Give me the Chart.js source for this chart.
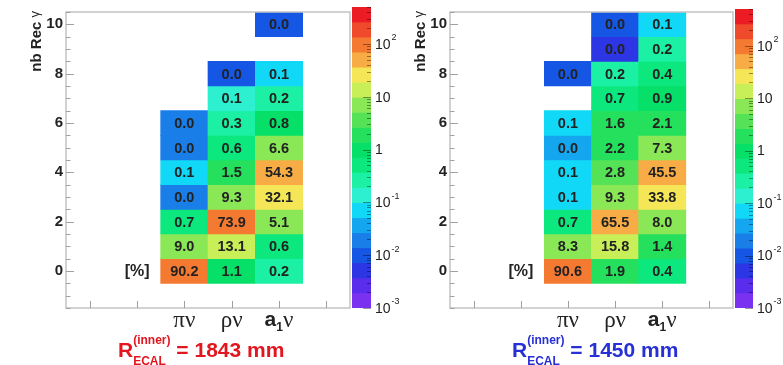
<!DOCTYPE html>
<html>
<head>
<meta charset="utf-8">
<script src="https://cdn.jsdelivr.net/npm/chart.js@4.4.1/dist/chart.umd.min.js"></script>
<style>
  body { margin: 0; background: #fff; width: 783px; height: 365px; overflow: hidden; position: relative; font-family: 'Liberation Sans', Arial, sans-serif; }
  canvas { position: absolute; top: 0; }
  .caption { position: absolute; top: 338px; font-weight: bold; font-size: 21px; line-height: 24px; white-space: nowrap; }
  .st { position: relative; }
  .sp { font-size: 12px; position: relative; top: -13px; }
  .sb { font-size: 12px; line-height: 12px; position: absolute; left: 0; top: 17px; }
</style>
</head>
<body>
<canvas id="barL" width="60" height="340" style="left:352px"></canvas>
<canvas id="mapL" width="351" height="340" style="left:0px"></canvas>
<canvas id="mapR" width="350" height="340" style="left:384px"></canvas>
<canvas id="barR" width="48" height="340" style="left:735px"></canvas>
<div class="caption" style="left:118px;color:#e3161f">R<span class="st"><span class="sp">(inner)</span><span class="sb">ECAL</span></span> = 1843 mm</div>
<div class="caption" style="left:512px;color:#2630d6">R<span class="st"><span class="sp">(inner)</span><span class="sb">ECAL</span></span> = 1450 mm</div>
<script>
// decay channels on x, index of each array = nb Rec gamma (0..10), null = empty bin
const categories = ['πν', 'ρν', 'a1ν'];
const xSlots = ['', ' ', 'πν', 'ρν', 'a1ν', '  '];

// R_ECAL(inner) = 1843 mm, values in %  ("0.0" bins keep a small value for the colour)
const leftPiNu  = [90.2, 9.0, 0.7, 0.025, 0.08, 0.02, 0.02, null, null, null, null];
const leftRhoNu = [1.1, 13.1, 73.9, 9.3, 1.5, 0.6, 0.3, 0.14, 0.01, null, null];
const leftA1Nu  = [0.2, 0.6, 5.1, 32.1, 54.3, 6.6, 0.8, 0.2, 0.08, null, 0.01];

// R_ECAL(inner) = 1450 mm
const rightPiNu  = [90.6, 8.3, 0.7, 0.09, 0.08, 0.04, 0.08, null, 0.01, null, null];
const rightRhoNu = [1.9, 15.8, 65.5, 9.3, 2.8, 2.2, 1.6, 0.7, 0.2, 0.005, 0.01];
const rightA1Nu  = [0.4, 1.4, 8.0, 33.8, 45.5, 7.3, 2.1, 0.9, 0.4, 0.2, 0.08];

const yTickLabels = [0, 2, 4, 6, 8, 10];
const zMin = 1e-3, zMax = 500;
const zTickValues = [1e-3, 1e-2, 1e-1, 1, 10, 100];
const zTickText = [['10', '-3'], ['10', '-2'], ['10', '-1'], ['1', ''], ['10', ''], ['10', '2']];
const palette = [
  '#7a32f0', '#5a2cec', '#2d36e4', '#1656e4', '#1a7ee8', '#14a6ee', '#10d8f6', '#2cf0d0',
  '#1cf0a4', '#0ce87e', '#06e068', '#24e05c', '#56e256', '#8ae856', '#c8ee58', '#f4e656',
  '#f8ac46', '#f47a32', '#f04a2c', '#ec1c24'
];

const lzMin = Math.log10(zMin), lzMax = Math.log10(zMax);
function colourFor(v) {
  let i = Math.floor((Math.log10(v) - lzMin) / (lzMax - lzMin) * palette.length);
  return palette[Math.max(0, Math.min(palette.length - 1, i))];
}

function cells(cols) {
  const out = [];
  cols.forEach((col, c) => col.forEach((v, r) => {
    if (v !== null) out.push({ x: categories[c], y: [r - 0.5, r + 0.5], v: v });
  }));
  return out;
}

const cellText = {
  id: 'cellText',
  afterDatasetsDraw(chart) {
    const ctx = chart.ctx;
    const meta = chart.getDatasetMeta(0);
    const data = chart.data.datasets[0].data;
    ctx.save();
    ctx.font = 'bold 14.5px "Liberation Sans"';
    ctx.fillStyle = '#222';
    ctx.textAlign = 'center';
    ctx.textBaseline = 'middle';
    meta.data.forEach((bar, i) => {
      const p = bar.getCenterPoint();
      ctx.fillText(data[i].v.toFixed(1), p.x, p.y + 1);
    });
    ctx.restore();
  }
};

const frame = {
  id: 'frame',
  afterDraw(chart) {
    const { ctx, chartArea: a, scales: { x, y } } = chart;
    const line = (x1, y1, x2, y2) => { ctx.beginPath(); ctx.moveTo(x1, y1); ctx.lineTo(x2, y2); ctx.stroke(); };
    ctx.save();
    ctx.strokeStyle = '#c4c4c4';
    ctx.lineWidth = 1.5;
    ctx.strokeRect(a.left, a.top, a.right - a.left, a.bottom - a.top);
    ctx.strokeStyle = '#a0a0a0';
    ctx.lineWidth = 1;
    y.ticks.forEach(t => {
      const py = Math.round(y.getPixelForValue(t.value)) + 0.5;
      line(a.left, py, a.left + (yTickLabels.includes(t.value) ? 8 : 4.5), py);
    });
    xSlots.forEach((s, i) => {
      const px = Math.round(x.getPixelForValue(i)) + 0.5;
      line(px, a.bottom, px, a.bottom - 7);
    });

    // [%] next to the first bin
    ctx.fillStyle = '#222';
    ctx.font = 'bold 16px "Liberation Sans"';
    ctx.textAlign = 'right';
    ctx.textBaseline = 'middle';
    const cellLeft = x.getPixelForValue(2) - (x.getPixelForValue(3) - x.getPixelForValue(2)) / 2;
    ctx.fillText('[%]', cellLeft - 11, y.getPixelForValue(0) + 1);

    // channel labels
    const base = a.bottom + 19;
    ctx.textAlign = 'center';
    ctx.textBaseline = 'alphabetic';
    ctx.font = '23px "Liberation Serif"';
    ctx.fillText('πν', x.getPixelForValue(2), base);
    ctx.fillText('ρν', x.getPixelForValue(3), base);
    const cx = x.getPixelForValue(4);
    ctx.textAlign = 'left';
    ctx.font = 'bold 21px "Liberation Sans"';
    const wa = ctx.measureText('a').width;
    ctx.font = 'bold 12px "Liberation Sans"';
    const w1 = ctx.measureText('1').width;
    ctx.font = '23px "Liberation Serif"';
    const wn = ctx.measureText('ν').width;
    let sx = cx - (wa + w1 + wn) / 2;
    ctx.font = 'bold 21px "Liberation Sans"';
    ctx.fillText('a', sx, base - 1);
    ctx.font = 'bold 12px "Liberation Sans"';
    ctx.fillText('1', sx + wa, base + 4);
    ctx.font = '23px "Liberation Serif"';
    ctx.fillText('ν', sx + wa + w1, base);

    // y title, top aligned
    ctx.translate(a.left - 29, a.top - 1);
    ctx.rotate(-Math.PI / 2);
    ctx.textAlign = 'right';
    ctx.textBaseline = 'middle';
    ctx.font = '13px "Liberation Sans"';
    const wg = ctx.measureText('γ').width;
    ctx.fillText('γ', 0, -2);
    ctx.font = 'bold 15px "Liberation Sans"';
    ctx.fillText('nb Rec ', -wg, 0);
    ctx.restore();
  }
};

function heatmap(id, cols, top) {
  return new Chart(document.getElementById(id), {
    type: 'bar',
    data: {
      labels: xSlots,
      datasets: [{
        data: cells(cols),
        backgroundColor: c => colourFor(c.raw.v),
        borderWidth: 0,
        barPercentage: 1,
        categoryPercentage: 1
      }]
    },
    options: {
      responsive: false,
      animation: false,
      events: [],
      layout: { padding: { top: top, right: 1, left: 0, bottom: 0 } },
      plugins: { legend: { display: false }, tooltip: { enabled: false } },
      scales: {
        x: {
          grid: { display: false }, border: { display: false },
          ticks: { display: false },
          afterFit: s => { s.height = 32; }
        },
        y: {
          min: -1.5, max: 10.5,
          grid: { display: false, drawTicks: false }, border: { display: false },
          ticks: {
            stepSize: 0.5, autoSkip: false, padding: 3, color: '#222',
            font: { family: 'Liberation Sans', size: 15, weight: 'bold' },
            callback: v => yTickLabels.includes(v) ? String(v) : ''
          },
          afterFit: s => { s.width = 66; }
        }
      }
    },
    plugins: [cellText, frame]
  });
}

const barTicks = {
  id: 'barTicks',
  afterDraw(chart) {
    const { ctx, chartArea: a, scales: { y } } = chart;
    ctx.save();
    ctx.strokeStyle = 'rgba(0,0,0,0.4)';
    ctx.lineWidth = 1;
    for (let p = -3; p <= 2; p++) {
      for (let k = 1; k <= 9; k++) {
        const v = k * Math.pow(10, p);
        if (v > zMax) break;
        const py = Math.round(y.getPixelForValue(v)) + 0.5;
        ctx.beginPath();
        ctx.moveTo(a.right, py);
        ctx.lineTo(a.right - (k === 1 ? 8 : 4), py);
        ctx.stroke();
      }
    }
    ctx.fillStyle = '#222';
    ctx.textBaseline = 'middle';
    ctx.textAlign = 'left';
    zTickValues.forEach((v, i) => {
      const py = y.getPixelForValue(v) + 1;
      const [b, e] = zTickText[i];
      ctx.font = '14px "Liberation Sans"';
      ctx.fillText(b, a.right + 4, py);
      const w = ctx.measureText(b).width;
      if (e) {
        ctx.font = '9px "Liberation Sans"';
        ctx.fillText(e, a.right + 5 + w, py - 7);
      }
    });
    ctx.restore();
  }
};

function colourBar(id, top, barWidth) {
  const canvas = document.getElementById(id);
  const edges = palette.map((c, i) => Math.pow(10, lzMin + (lzMax - lzMin) * i / palette.length));
  edges.push(zMax);
  return new Chart(canvas, {
    type: 'bar',
    data: {
      labels: ['z'],
      datasets: [{
        data: palette.map((c, i) => ({ x: 'z', y: [edges[i], edges[i + 1]] })),
        backgroundColor: palette,
        borderWidth: 0,
        barPercentage: 1,
        categoryPercentage: 1
      }]
    },
    options: {
      responsive: false,
      animation: false,
      events: [],
      layout: { padding: { top: top, right: 0, left: 0, bottom: 32 } },
      plugins: { legend: { display: false }, tooltip: { enabled: false } },
      scales: {
        x: { display: false },
        y: {
          type: 'logarithmic', position: 'right', min: zMin, max: zMax,
          grid: { display: false }, border: { display: false },
          ticks: { display: false },
          afterFit: s => { s.width = canvas.width - barWidth; }
        }
      }
    },
    plugins: [barTicks]
  });
}

heatmap('mapL', [leftPiNu, leftRhoNu, leftA1Nu], 7);
colourBar('barL', 7, 19);
heatmap('mapR', [rightPiNu, rightRhoNu, rightA1Nu], 9);
colourBar('barR', 9, 18);
</script>
</body>
</html>
